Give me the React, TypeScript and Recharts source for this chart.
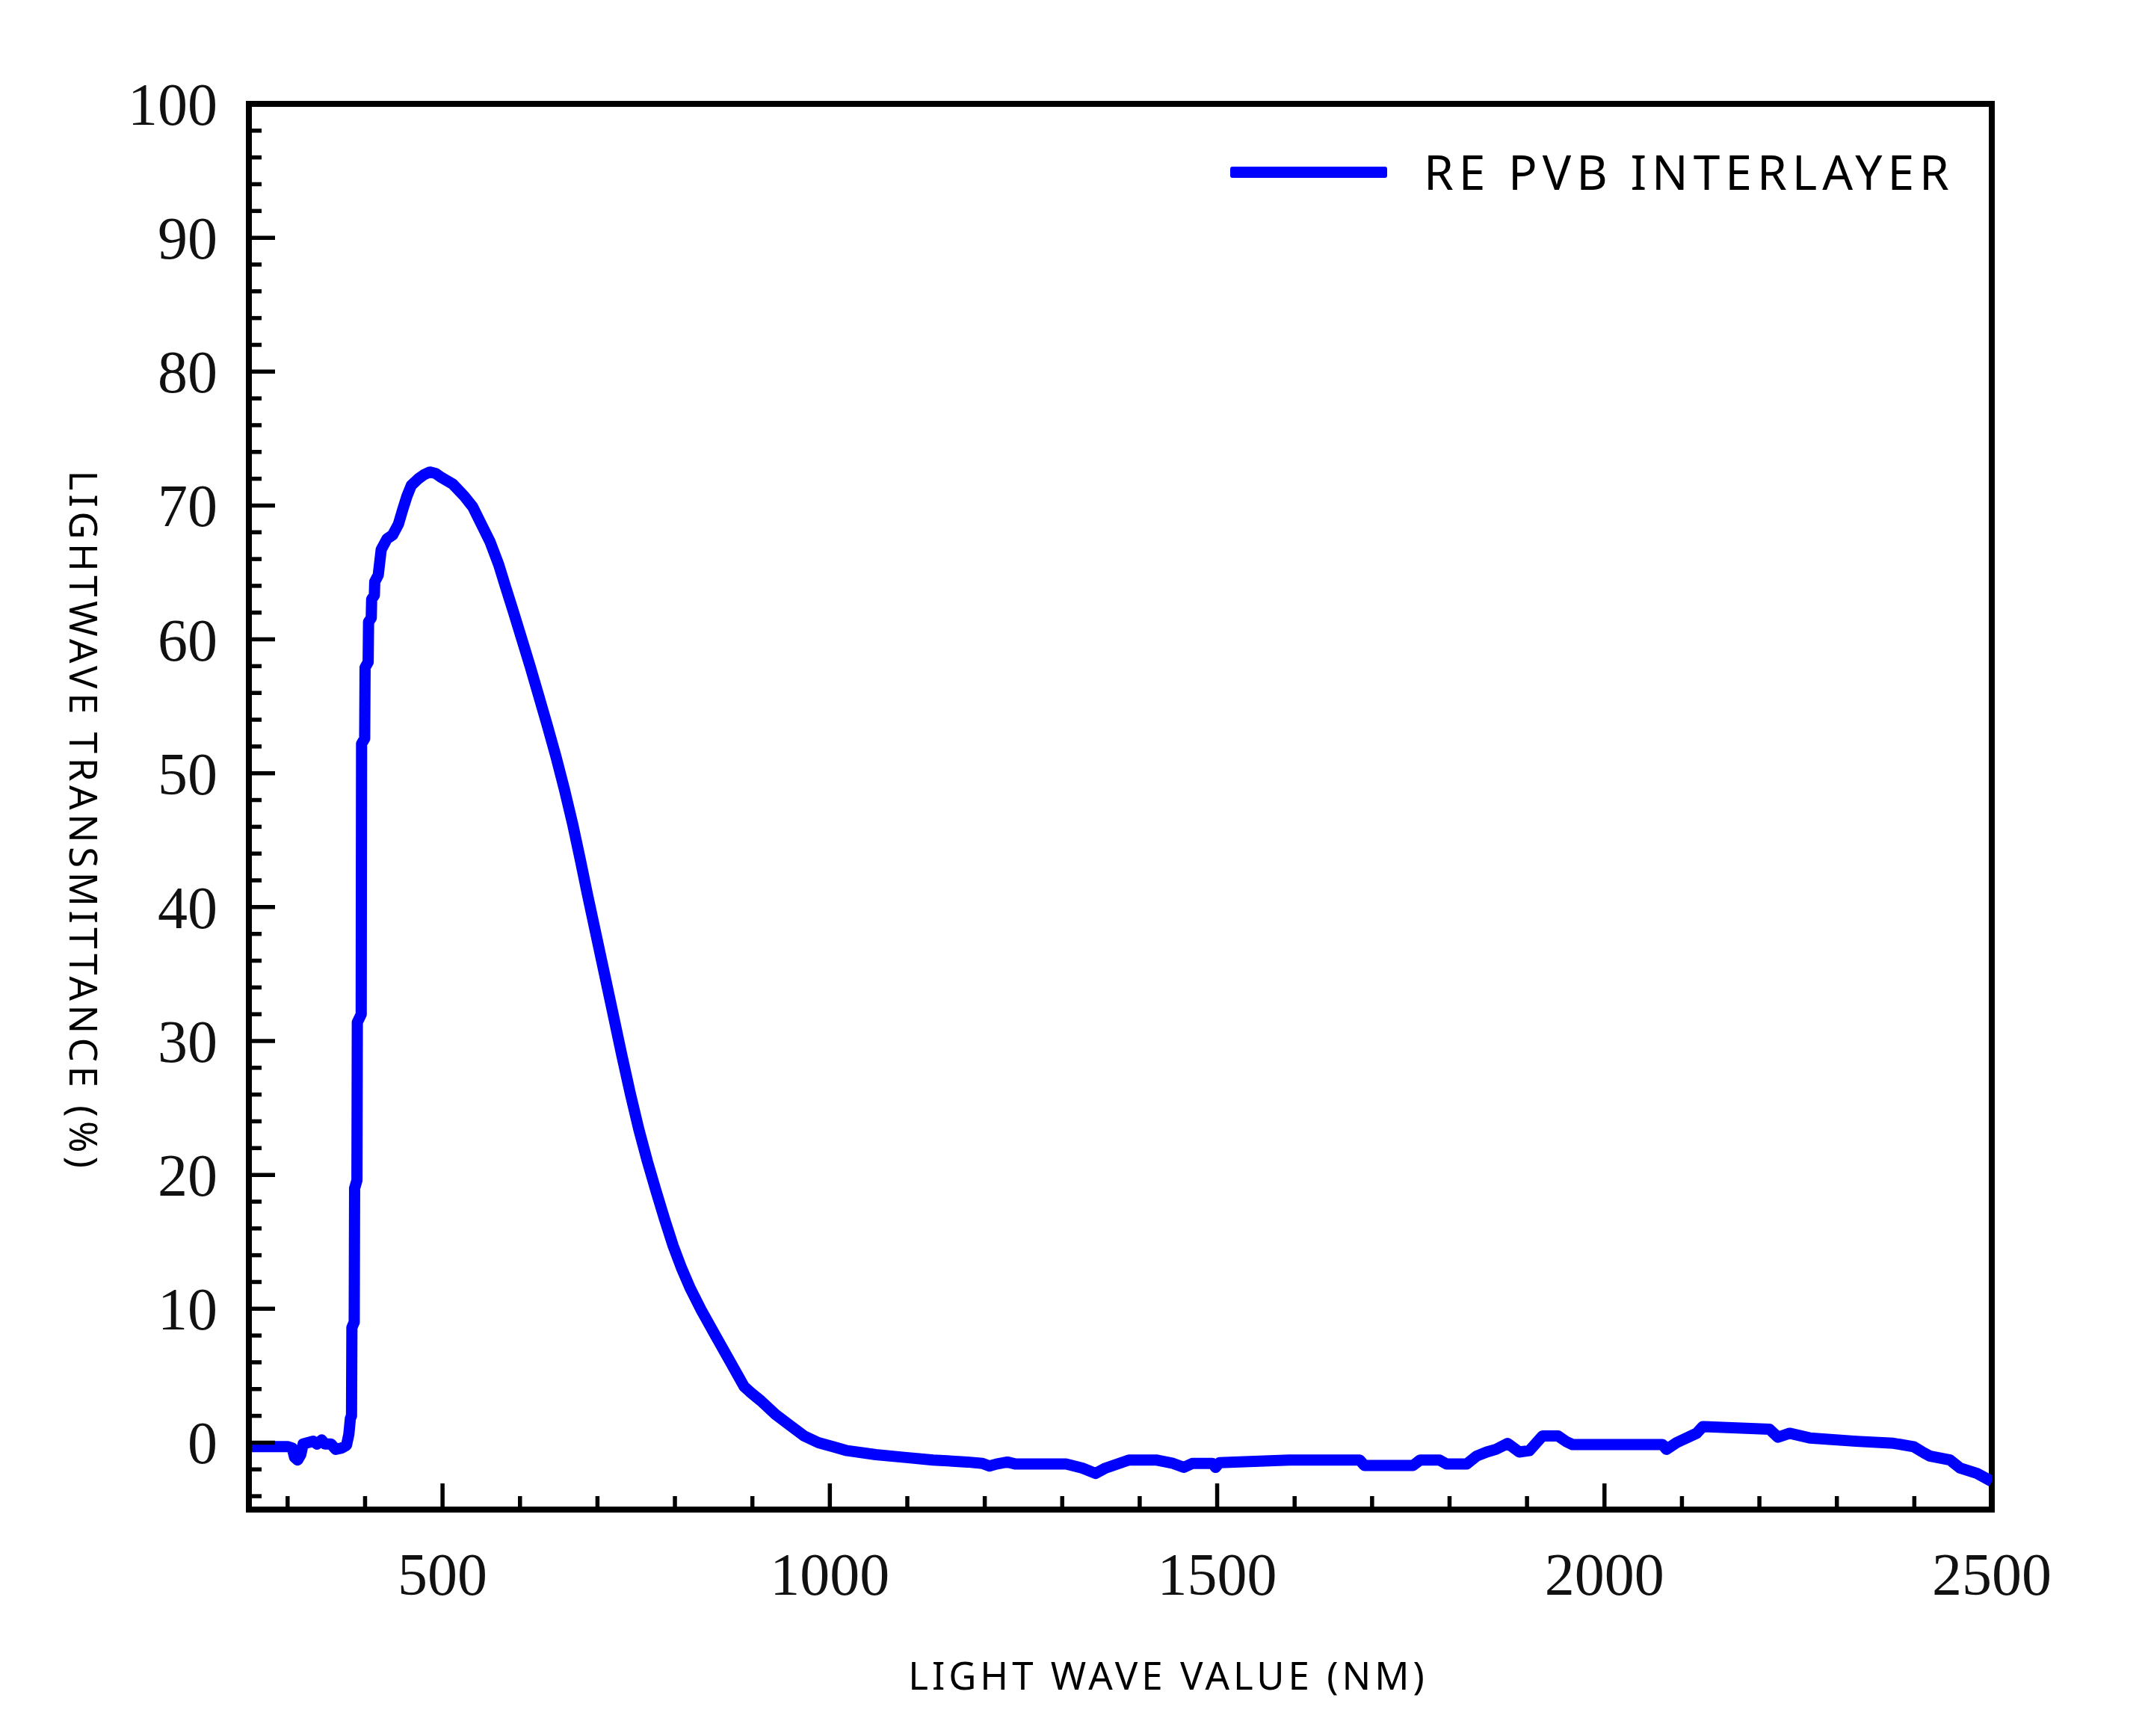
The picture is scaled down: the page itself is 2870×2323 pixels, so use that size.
import React from 'react';
import { LineChart, Line, XAxis, YAxis, ReferenceLine, Legend } from 'recharts';

// ---- data ----
const WAVELENGTH_NM = [
  250, 300, 306, 309, 313, 317, 320, 326, 333, 338, 344, 348, 356, 362, 370, 376, 379, 381, 382.5, 383,
  386, 386.5, 389.5, 390, 395, 395.5, 399.5, 400, 404, 404.5, 408, 408.5, 412, 412.5, 417,
  420.8, 428.2, 435.6, 443, 448.6, 454.1, 459.7, 468.8, 476, 483.6, 491, 498.4, 513.2, 528, 539,
  550.1, 561.3, 572.4, 581.5, 590.8, 601.9, 613, 624.1, 635.1, 646.2, 657.3, 668.4, 678, 686.9, 698,
  709.1, 720.2, 731.2, 742.3, 753.4, 764.5, 775.6, 786.6, 797.7, 808.8, 820, 834, 852.3, 870.8, 889.2,
  896.7, 911.4, 929.9, 948.4, 966.8, 985.3, 1003.8, 1022.3, 1059.3, 1096.2, 1133.2, 1177.5, 1197, 1206, 1215,
  1229, 1240, 1305, 1326, 1343, 1356, 1386, 1421, 1443, 1457, 1468, 1494, 1498, 1503, 1593,
  1684, 1690, 1753, 1762, 1787, 1796, 1822, 1835, 1848, 1860, 1875, 1890, 1903, 1920, 1940,
  1950, 1959, 2075, 2080, 2093, 2119, 2127, 2213, 2224, 2239, 2265, 2325, 2373, 2399, 2412,
  2420, 2446, 2459, 2481, 2500,
];
const TRANSMITTANCE = [
  -0.3, -0.3, -0.4, -1.1, -1.3, -0.9, -0.1, 0.0, 0.1, -0.1, 0.2, -0.1, -0.1, -0.5, -0.4, -0.2, 0.6, 1.8, 2.0, 8.6,
  9.0, 19.0, 19.6, 31.4, 32.0, 52.2, 52.6, 57.9, 58.3, 61.3, 61.6, 63.0, 63.3, 64.3, 64.8,
  66.7, 67.5, 67.8, 68.6, 69.7, 70.7, 71.5, 72.0, 72.3, 72.5, 72.4, 72.1, 71.6, 70.7, 69.9,
  68.6, 67.3, 65.6, 63.9, 62.2, 60.1, 58.0, 55.8, 53.6, 51.3, 48.8, 46.1, 43.5, 41.0, 38.0,
  35.0, 32.0, 29.0, 26.1, 23.4, 21.0, 18.8, 16.7, 14.7, 13.0, 11.5, 9.9, 8.0, 6.1, 4.2,
  3.8, 3.1, 2.1, 1.3, 0.5, 0.0, -0.3, -0.6, -0.9, -1.1, -1.3, -1.45, -1.55, -1.75, -1.6,
  -1.45, -1.6, -1.6, -1.9, -2.3, -1.9, -1.3, -1.3, -1.55, -1.85, -1.55, -1.55, -1.85, -1.5, -1.3,
  -1.3, -1.7, -1.7, -1.3, -1.3, -1.6, -1.6, -1.0, -0.7, -0.5, -0.06, -0.7, -0.6, 0.5, 0.5,
  0.1, -0.15, -0.15, -0.5, 0.0, 0.7, 1.2, 1.0, 0.4, 0.7, 0.35, 0.1, -0.05, -0.3, -0.75,
  -1.0, -1.3, -1.9, -2.3, -2.9,
];
const X_TICKS = [300, 400, 500, 600, 700, 800, 900, 1000, 1100, 1200, 1300, 1400, 1500, 1600, 1700, 1800, 1900, 2000, 2100, 2200, 2300, 2400, 2500];
const X_LABELED = [500, 1000, 1500, 2000, 2500];
const Y_TICKS = [-4, -2, 0, 2, 4, 6, 8, 10, 12, 14, 16, 18, 20, 22, 24, 26, 28, 30, 32, 34, 36, 38, 40, 42, 44, 46, 48, 50, 52, 54, 56, 58, 60, 62, 64, 66, 68, 70, 72, 74, 76, 78, 80, 82, 84, 86, 88, 90, 92, 94, 96, 98, 100];
const Y_LABELED = [0, 10, 20, 30, 40, 50, 60, 70, 80, 90, 100];
const X_DOMAIN = [250, 2500];
const Y_DOMAIN = [-5, 100];
const SERIES_NAME = 'RE PVB INTERLAYER';
const X_TITLE = 'LIGHT WAVE VALUE (NM)';
const Y_TITLE = 'LIGHTWAVE TRANSMITTANCE (%)';

const data = WAVELENGTH_NM.map((nm, i) => ({ nm, t: TRANSMITTANCE[i] }));

// ---- layout ----
const W = 2870;
const H = 2323;
const PLOT_LEFT = 333;
const PLOT_RIGHT = 2665;
const PLOT_TOP = 139;
const PLOT_BOTTOM = 2020;
const YAXIS_W = 200;
const XAXIS_H = 200;
const BLUE = '#0000FF';
const SERIF = '"Liberation Serif", "Times New Roman", serif';
const SANS = '"Noto Sans", "DejaVu Sans", sans-serif';
const FRAME_W = 8;

const YTick = (props: any) => {
  const { y, payload } = props;
  const v = payload.value;
  const major = Y_LABELED.includes(v);
  return (
    <g>
      {v < 100 && (
        <line x1={PLOT_LEFT} x2={PLOT_LEFT + (major ? 35 : 17)} y1={y} y2={y} stroke="#000" strokeWidth={5.5} />
      )}
      {major && (
        <text x={PLOT_LEFT - 42} y={y} dy="0.35em" textAnchor="end" fontFamily={SERIF} fontSize={80} fill="#111">
          {v}
        </text>
      )}
    </g>
  );
};

const XTick = (props: any) => {
  const { x, payload } = props;
  const v = payload.value;
  const major = X_LABELED.includes(v);
  return (
    <g>
      {v < 2500 && (
        <line x1={x} x2={x} y1={PLOT_BOTTOM} y2={PLOT_BOTTOM - (major ? 35 : 18)} stroke="#000" strokeWidth={5.5} />
      )}
      {major && (
        <text x={x} y={PLOT_BOTTOM + 114} textAnchor="middle" fontFamily={SERIF} fontSize={80} fill="#111">
          {v}
        </text>
      )}
    </g>
  );
};

const XTitle = () => (
  <text x={1563} y={2261} textAnchor="middle" fontFamily={SANS} fontSize={51} letterSpacing={5} fill="#000">
    {X_TITLE}
  </text>
);

const YTitle = () => (
  <text
    x={93}
    y={1099}
    transform="rotate(90, 93, 1099)"
    textAnchor="middle"
    fontFamily={SANS}
    fontSize={51}
    letterSpacing={5.5}
    fill="#000"
  >
    {Y_TITLE}
  </text>
);

const LegendContent = () => (
  <div style={{ display: 'flex', alignItems: 'center', height: 80 }}>
    <div style={{ width: 210, height: 15, background: BLUE, borderRadius: 3 }} />
    <span
      style={{
        marginLeft: 49,
        fontFamily: SANS,
        fontSize: 64,
        letterSpacing: 7,
        color: '#000',
        lineHeight: '80px',
        whiteSpace: 'nowrap',
      }}
    >
      {SERIES_NAME}
    </span>
  </div>
);

export default function App() {
  return (
    <div style={{ position: 'absolute', left: 0, top: 0, width: W, height: H, background: '#fff' }}>
      <LineChart
        width={W}
        height={H}
        data={data}
        margin={{
          top: PLOT_TOP,
          right: W - PLOT_RIGHT,
          bottom: H - PLOT_BOTTOM - XAXIS_H,
          left: PLOT_LEFT - YAXIS_W,
        }}
      >
        <XAxis
          dataKey="nm"
          type="number"
          domain={X_DOMAIN}
          ticks={X_TICKS}
          interval={0}
          allowDataOverflow
          height={XAXIS_H}
          tickLine={false}
          tickSize={0}
          tickMargin={0}
          tick={<XTick />}
          axisLine={{ stroke: '#000', strokeWidth: FRAME_W, strokeLinecap: 'square' }}
          label={{ content: XTitle }}
        />
        <YAxis
          type="number"
          domain={Y_DOMAIN}
          ticks={Y_TICKS}
          interval={0}
          allowDataOverflow
          width={YAXIS_W}
          tickLine={false}
          tickSize={0}
          tickMargin={0}
          tick={<YTick />}
          axisLine={{ stroke: '#000', strokeWidth: FRAME_W, strokeLinecap: 'square' }}
          label={{ content: YTitle }}
        />
        <ReferenceLine y={100} stroke="#000" strokeWidth={FRAME_W} strokeLinecap="square" />
        <ReferenceLine x={2500} stroke="#000" strokeWidth={FRAME_W} strokeLinecap="square" />
        <Legend
          layout="horizontal"
          verticalAlign="middle"
          align="center"
          content={LegendContent}
          wrapperStyle={{ position: 'absolute', left: 1646, top: 190, width: 1000, height: 80 }}
        />
        <Line
          dataKey="t"
          name={SERIES_NAME}
          type="linear"
          stroke={BLUE}
          strokeWidth={15}
          strokeLinejoin="round"
          dot={false}
          activeDot={false}
          isAnimationActive={false}
        />
      </LineChart>
    </div>
  );
}
